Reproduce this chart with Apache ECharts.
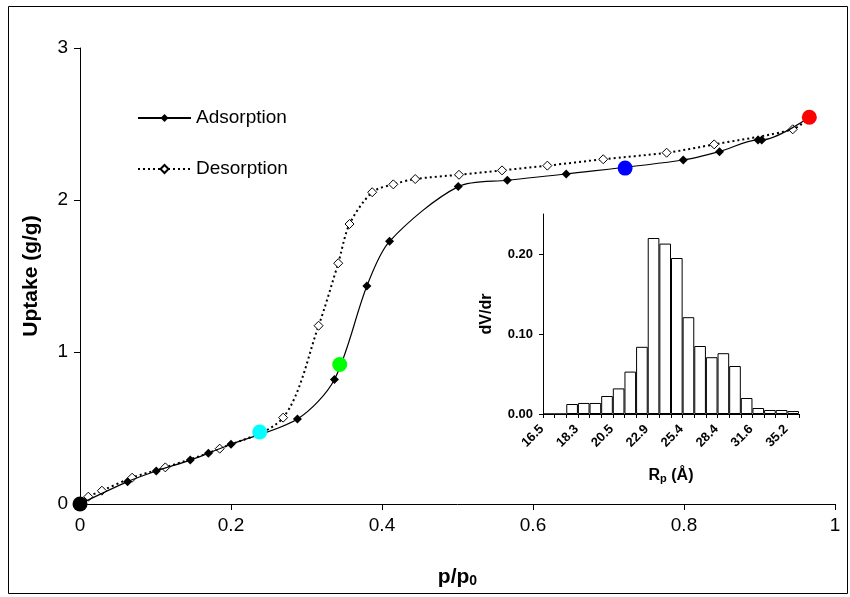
<!DOCTYPE html>
<html>
<head>
<meta charset="utf-8">
<script src="https://cdn.jsdelivr.net/npm/echarts@6/dist/echarts.min.js"></script>
<style>
html,body{margin:0;padding:0;background:#fff;}
#chart{width:850px;height:597px;}
</style>
</head>
<body>
<div id="chart"></div>
<script>
// Main isotherm (p/p0 vs uptake g/g)
var adsorptionX = [0, 0.063, 0.101, 0.146, 0.170, 0.200, 0.288, 0.337, 0.380, 0.410, 0.501, 0.566, 0.644, 0.799, 0.847, 0.898, 0.903, 0.966];
var adsorptionY = [0, 0.147, 0.217, 0.289, 0.334, 0.393, 0.559, 0.819, 1.434, 1.728, 2.088, 2.130, 2.171, 2.263, 2.318, 2.395, 2.395, 2.544];
var desorptionX = [0.966, 0.944, 0.840, 0.777, 0.693, 0.619, 0.559, 0.502, 0.444, 0.415, 0.387, 0.357, 0.342, 0.316, 0.269, 0.185, 0.113, 0.069, 0.029, 0.011, 0];
var desorptionY = [2.544, 2.465, 2.366, 2.311, 2.268, 2.226, 2.195, 2.166, 2.138, 2.103, 2.051, 1.842, 1.584, 1.173, 0.568, 0.364, 0.241, 0.173, 0.0875, 0.048, 0];
// Highlighted points
var markerX = [0, 0.238, 0.344, 0.722, 0.966];
var markerY = [0, 0.474, 0.918, 2.210, 2.544];
var markerColors = ['#000000', '#00FFFF', '#00FF00', '#0000FF', '#FF0000'];
// Inset: pore size distribution
var poreRadius = ['16.5','17.1','17.7','18.3','19.0','19.7','20.5','21.3','22.1','22.9','23.7','24.5','25.4','26.4','27.4','28.4','29.4','30.5','31.6','32.8','34.0','35.2'];
var dVdr = [0, 0, 0.0125, 0.0138, 0.0138, 0.0225, 0.032, 0.053, 0.084, 0.220, 0.213, 0.195, 0.121, 0.085, 0.071, 0.076, 0.060, 0.020, 0.0075, 0.005, 0.005, 0.0037];
var mainXTicks = [0, 0.2, 0.4, 0.6, 0.8, 1];
var mainYTicks = [0, 1, 2, 3];
var insetYTicks = [0, 0.1, 0.2];

function pairs(xs, ys){ return xs.map(function(x,i){ return [x, ys[i]]; }); }

var FONT = '"Liberation Sans", Arial, sans-serif';
var chart = echarts.init(document.getElementById('chart'), null, {renderer:'canvas'});
var option = {
  animation: false,
  backgroundColor: '#ffffff',
  textStyle: {fontFamily: FONT, color: '#000'},
  graphic: [{
    type: 'rect', silent: true, z: 0,
    shape: {x: 8.5, y: 6.5, width: 839, height: 587},
    style: {fill: 'none', stroke: '#000', lineWidth: 1}
  }],
  legend: {
    data: ['Adsorption', 'Desorption'],
    orient: 'vertical',
    left: 137, top: 108, padding: 0,
    itemWidth: 53, itemHeight: 10, itemGap: 31,
    textStyle: {fontSize: 19, color: '#000', fontFamily: FONT, lineHeight: 20}
  },
  grid: [
    {left: 80, right: 15, top: 48, bottom: 93, containLabel: false},
    {left: 543, right: 51, top: 214, bottom: 183, containLabel: false}
  ],
  xAxis: [{
    type: 'value', gridIndex: 0, min: 0, max: 1, interval: 0.2,
    axisLine: {show: true, lineStyle: {color: '#000', width: 1}},
    axisTick: {show: true, length: 6, lineStyle: {color: '#000'}},
    splitLine: {show: false},
    axisLabel: {fontSize: 19, color: '#000', margin: 12, fontFamily: FONT,
      customValues: mainXTicks},
    name: '{a|p/p}{b|0}', nameLocation: 'middle', nameGap: 62,
    nameTextStyle: {rich: {
      a: {fontSize: 21, fontWeight: 'bold', color: '#000', fontFamily: FONT},
      b: {fontSize: 14, fontWeight: 'bold', color: '#000', fontFamily: FONT, verticalAlign: 'bottom', padding: [8, 0, 0, 0]}
    }}
  }, {
    type: 'category', gridIndex: 1, data: poreRadius, boundaryGap: true,
    axisLine: {show: true, lineStyle: {color: '#000', width: 1}},
    axisTick: {show: true, length: 4, interval: 0, alignWithLabel: false, lineStyle: {color: '#000'}},
    axisLabel: {interval: 2, rotate: 45, fontSize: 13, fontWeight: 'bold', color: '#000', margin: 6, fontFamily: FONT,
      padding: [0, 10, 0, 0]},
    splitLine: {show: false},
    name: '{a|R}{b|p}{a| (Å)}', nameLocation: 'middle', nameGap: 53,
    nameTextStyle: {rich: {
      a: {fontSize: 16, fontWeight: 'bold', color: '#000', fontFamily: FONT},
      b: {fontSize: 11, fontWeight: 'bold', color: '#000', fontFamily: FONT, verticalAlign: 'bottom', padding: [6, 0, 0, 0]}
    }}
  }],
  yAxis: [{
    type: 'value', gridIndex: 0, min: 0, max: 3, interval: 1,
    axisLine: {show: true, lineStyle: {color: '#000', width: 1}},
    axisTick: {show: true, length: 6, lineStyle: {color: '#000'}},
    splitLine: {show: false},
    axisLabel: {fontSize: 19, color: '#000', margin: 12, fontFamily: FONT, customValues: mainYTicks},
    name: 'Uptake (g/g)', nameLocation: 'middle', nameGap: 38,
    nameTextStyle: {fontSize: 21, fontWeight: 'bold', color: '#000', fontFamily: FONT}
  }, {
    type: 'value', gridIndex: 1, min: 0, max: 0.25,
    axisLine: {show: true, lineStyle: {color: '#000', width: 1}},
    axisTick: {show: true, length: 4, customValues: insetYTicks, lineStyle: {color: '#000'}},
    splitLine: {show: false},
    axisLabel: {fontSize: 13, fontWeight: 'bold', color: '#000', margin: 10, fontFamily: FONT,
      customValues: insetYTicks,
      formatter: function(v){ return v.toFixed(2); }},
    name: 'dV/dr', nameLocation: 'middle', nameGap: 48,
    nameTextStyle: {fontSize: 16, fontWeight: 'bold', color: '#000', fontFamily: FONT}
  }],
  series: [{
    name: 'Adsorption', type: 'line', xAxisIndex: 0, yAxisIndex: 0,
    data: pairs(adsorptionX, adsorptionY),
    smooth: 0.3,
    symbol: 'diamond', symbolSize: 9,
    itemStyle: {color: '#000'},
    lineStyle: {color: '#000', width: 1.2},
    z: 3
  }, {
    name: 'Desorption', type: 'line', xAxisIndex: 0, yAxisIndex: 0,
    data: pairs(desorptionX, desorptionY),
    smooth: 0.3,
    symbol: 'diamond', symbolSize: 9,
    itemStyle: {color: '#fff', borderColor: '#000', borderWidth: 1},
    lineStyle: {color: '#000', width: 2, type: [2, 3]},
    z: 2
  }, {
    name: 'Points', type: 'scatter', xAxisIndex: 0, yAxisIndex: 0,
    data: markerX.map(function(x, i){ return {value: [x, markerY[i]], itemStyle: {color: markerColors[i], opacity: 1}}; }),
    symbol: 'circle', symbolSize: 15, clip: false, z: 10,
    itemStyle: {opacity: 1}
  }, {
    name: 'PSD', type: 'bar', xAxisIndex: 1, yAxisIndex: 1,
    data: dVdr, barWidth: '100%', barCategoryGap: '0%',
    itemStyle: {color: '#fff', borderColor: '#000', borderWidth: 1}
  }]
};
chart.setOption(option);
</script>
</body>
</html>
